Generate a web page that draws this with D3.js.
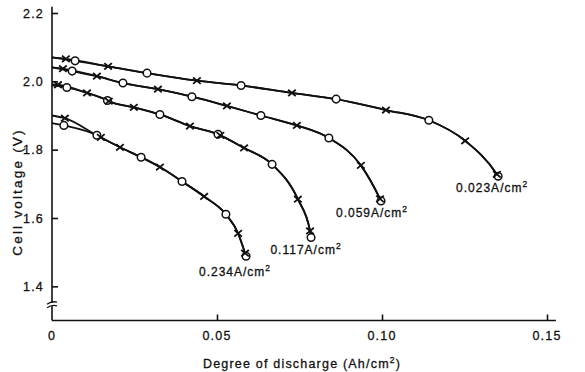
<!DOCTYPE html>
<html>
<head>
<meta charset="utf-8">
<script src="https://cdn.jsdelivr.net/npm/d3@7/dist/d3.min.js"></script>
<style>
  html, body { margin: 0; padding: 0; background: #fff; }
  svg { display: block; }
  text { font-family: "Liberation Sans", Arial, Helvetica, sans-serif; fill: #111; stroke: #111; stroke-width: 0.3px; }
</style>
</head>
<body>
<div id="chart"></div>
<script>
// Discharge curves: cell voltage vs. degree of discharge at four current densities.
// Each run is a list of [discharge (Ah/cm2), voltage (V)]; the first entry (x = 0) is where the trace starts.
const cross023  = [[0, 2.070], [0.0042, 2.066], [0.0170, 2.044], [0.0439, 2.002], [0.0727, 1.966], [0.1012, 1.916], [0.1252, 1.826], [0.1348, 1.728]];
const circle023 = [[0, 2.070], [0.0070, 2.060], [0.0288, 2.024], [0.0573, 1.988], [0.0861, 1.948], [0.1142, 1.886], [0.1352, 1.722]];

const cross059  = [[0, 2.041], [0.0033, 2.037], [0.0136, 2.015], [0.0321, 1.977], [0.0530, 1.928], [0.0742, 1.871], [0.0936, 1.754], [0.0994, 1.656]];
const circle059 = [[0, 2.041], [0.0061, 2.030], [0.0215, 1.995], [0.0424, 1.955], [0.0633, 1.900], [0.0839, 1.834], [0.0997, 1.650]];

const cross117  = [[0, 1.991], [0.0018, 1.990], [0.0106, 1.966], [0.0172, 1.942], [0.0248, 1.924], [0.0418, 1.869], [0.0510, 1.842], [0.0582, 1.805], [0.0745, 1.655], [0.0782, 1.562]];
const circle117 = [[0, 1.988], [0.0045, 1.982], [0.0168, 1.944], [0.0327, 1.903], [0.0503, 1.845], [0.0667, 1.757], [0.0785, 1.543]];

const cross234  = [[0, 1.900], [0.0039, 1.892], [0.0148, 1.836], [0.0206, 1.807], [0.0327, 1.749], [0.0461, 1.663], [0.0564, 1.555], [0.0585, 1.497]];
const circle234 = [[0, 1.878], [0.0036, 1.871], [0.0136, 1.842], [0.0270, 1.778], [0.0394, 1.707], [0.0527, 1.611], [0.0588, 1.488]];

const densityLabels = ["0.023A/cm", "0.059A/cm", "0.117A/cm", "0.234A/cm"];
const xTicks = [0, 0.05, 0.10, 0.15];
const xTickLabels = ["0", "0.05", "0.10", "0.15"];
const yTicks = [1.4, 1.6, 1.8, 2.0, 2.2];
const yTickLabels = ["1.4", "1.6", "1.8", "2.0", "2.2"];
const xTitle = "Degree of discharge (Ah/cm";
const yTitle = "Cell voltage (V)";

const runs = [
  { cross: cross023, circle: circle023 },
  { cross: cross059, circle: circle059 },
  { cross: cross117, circle: circle117 },
  { cross: cross234, circle: circle234 }
];
// label placement relative to the end of each run (pixels)
const labelOffsets = [[-6, 16], [-9, 16], [-5, 17], [-11, 20]];

const W = 585, H = 372;
const x = d3.scaleLinear().domain([0, 0.15]).range([52, 547]);
const y = d3.scaleLinear().domain([1.3, 2.2]).range([320.5, 13]);

const svg = d3.select("#chart").append("svg")
  .attr("width", W).attr("height", H)
  .attr("viewBox", `0 0 ${W} ${H}`);

const ink = "#111";

// axes
const xAxis = d3.axisBottom(x).tickValues(xTicks.slice(1)).tickSize(-6).tickFormat("");
const gx = svg.append("g").attr("transform", `translate(0,${y(1.3)})`).call(xAxis);
gx.select(".domain").attr("d", `M${x(0)},0H${x(0.1527)}`);
const yAxis = d3.axisLeft(y).tickValues(yTicks).tickSize(-6).tickFormat("");
const gy = svg.append("g").attr("transform", `translate(${x(0)},0)`).call(yAxis);
gy.select(".domain").attr("d", `M0,${y(2.218)}V${y(1.3)}`);
svg.selectAll(".domain, .tick line").attr("stroke", ink).attr("stroke-width", 1.6);

// axis break on the voltage axis
const bY = y(1.3) - 16;
svg.append("rect").attr("x", x(0) - 2).attr("y", bY - 1.5).attr("width", 4).attr("height", 3).attr("fill", "#fff");
[-1.8, 1.8].forEach(o => {
  svg.append("path")
    .attr("d", `M${x(0) - 5},${bY + o + 1.5} Q${x(0)},${bY + o - 2} ${x(0) + 5},${bY + o - 0.5}`)
    .attr("fill", "none").attr("stroke", ink).attr("stroke-width", 1.4);
});

// tick labels
svg.append("g").selectAll("text").data(xTicks).join("text")
  .attr("x", d => x(d)).attr("y", 340)
  .attr("text-anchor", "middle")
  .attr("font-size", 12.5).attr("letter-spacing", 1.2)
  .text((d, i) => xTickLabels[i]);
svg.append("g").selectAll("text").data(yTicks).join("text")
  .attr("x", 44).attr("y", d => y(d) + 4.5)
  .attr("text-anchor", "end")
  .attr("font-size", 12.5).attr("letter-spacing", 1.2)
  .text((d, i) => yTickLabels[i]);

// axis titles
const xt = svg.append("text").attr("x", 302).attr("y", 368)
  .attr("text-anchor", "middle").attr("font-size", 12.5).attr("letter-spacing", 1.2);
xt.append("tspan").text(xTitle);
xt.append("tspan").attr("font-size", 8.5).attr("dy", -5).text("2");
xt.append("tspan").attr("dy", 5).text(")");

svg.append("text")
  .attr("transform", `translate(22,192) rotate(-90)`)
  .attr("text-anchor", "middle").attr("font-size", 13.5).attr("letter-spacing", 2.2)
  .text(yTitle);

// traces: each run starts from its own x = 0 value and its first reading,
// then both runs share one smooth curve through all readings of that density
const line = d3.line().x(d => x(d[0])).y(d => y(d[1])).curve(d3.curveMonotoneX);
const gl = svg.append("g");
runs.forEach(r => {
  const merged = r.cross.slice(1).concat(r.circle.slice(1)).sort((a, b) => a[0] - b[0]);
  const joinX = Math.max(r.cross[1][0], r.circle[1][0]);
  const tail = merged.filter(d => d[0] > joinX);
  [r.cross, r.circle].forEach(s => {
    gl.append("path").attr("d", line([s[0], s[1]].concat(tail)))
      .attr("fill", "none").attr("stroke", ink).attr("stroke-width", 1.8)
      .attr("stroke-linejoin", "round");
  });
});

// markers (the x = 0 entry is only the trace start)
const gm = svg.append("g");
runs.forEach(r => {
  gm.selectAll(null).data(r.circle.filter(d => d[0] > 0)).join("circle")
    .attr("cx", d => x(d[0])).attr("cy", d => y(d[1])).attr("r", 3.8)
    .attr("fill", "#fff").attr("stroke", ink).attr("stroke-width", 1.5);
  gm.selectAll(null).data(r.cross.filter(d => d[0] > 0)).join("path")
    .attr("transform", d => `translate(${x(d[0])},${y(d[1])})`)
    .attr("d", "M-3.8,-3.2L3.8,3.2M-3.8,3.2L3.8,-3.2")
    .attr("stroke", ink).attr("stroke-width", 1.8).attr("fill", "none");
});

// current density labels
runs.forEach((r, i) => {
  const end = r.circle[r.circle.length - 1];
  const t = svg.append("text")
    .attr("x", x(end[0]) + labelOffsets[i][0])
    .attr("y", y(end[1]) + labelOffsets[i][1])
    .attr("text-anchor", "middle").attr("font-size", 12).attr("letter-spacing", 1);
  t.append("tspan").text(densityLabels[i]);
  t.append("tspan").attr("font-size", 8.5).attr("dy", -5).text("2");
});
</script>
</body>
</html>
